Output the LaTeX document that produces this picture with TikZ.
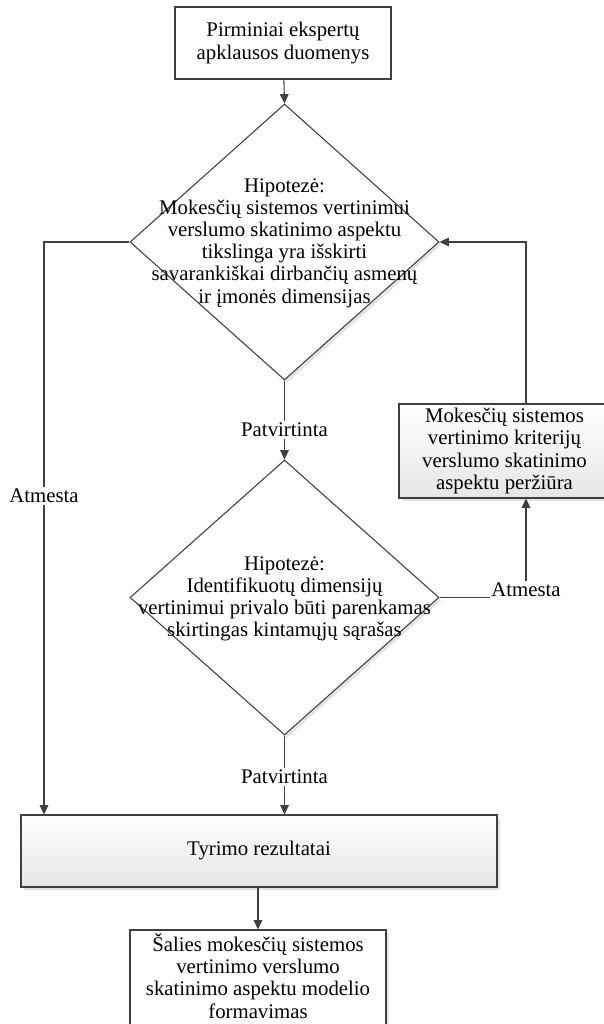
\documentclass[tikz,border=0pt]{standalone}
\usepackage{fontspec}
\setmainfont{Liberation Serif}
\usetikzlibrary{arrows.meta,shapes.geometric,shadows,calc}
\definecolor{linec}{HTML}{404040}
\definecolor{boxgray}{HTML}{E6E6E6}
\begin{document}
\begin{tikzpicture}[x=0.75pt,y=-0.75pt,
  line/.style={draw=linec, line width=0.8pt},
  arr/.style={line, -{Triangle[length=7pt,width=6.5pt]}},
  txt/.style={font=\fontsize{15.6}{16.6}\selectfont, align=center, text=black, inner sep=1pt},
  shad/.style={drop shadow={opacity=0.22, shadow xshift=2pt, shadow yshift=-2pt}},
  plainbox/.style={draw=linec, line width=0.8pt, fill=white, txt},
  gradbox/.style={draw=linec, line width=0.8pt, top color=white, bottom color=boxgray, shad, txt},
  whitebox/.style={draw=linec, line width=0.8pt, fill=white, shad, txt},
  dia/.style={diamond, draw=linec, line width=0.8pt, fill=white, shad, inner sep=0pt, minimum width=231.75pt},
  lbl/.style={txt, fill=white}
]
\useasboundingbox (0,0) rectangle (603,1024);
\fill[white] (0,0) rectangle (603,1024);

% nodes
\node[plainbox, minimum width=162pt, minimum height=54pt] (top) at (283,43)
  {Pirminiai ekspertų\\apklausos duomenys};

\node[dia, minimum height=207pt] (d1) at (284.5,242) {};
\node[txt] (d1t) at (284.5,243)
  {Hipotezė:\\Mokesčių sistemos vertinimui\\verslumo skatinimo aspektu\\tikslinga yra išskirti\\savarankiškai dirbančių asmenų\\ir įmonės dimensijas};

\node[dia, minimum height=206.25pt] (d2) at (284.5,597.5) {};
\node[txt] (d2t) at (284.5,599)
  {Hipotezė:\\Identifikuotų dimensijų\\vertinimui privalo būti parenkamas\\skirtingas kintamųjų sąrašas};

\node[gradbox, minimum width=158.25pt, minimum height=70.5pt] (rev) at (504.5,451)
  {Mokesčių sistemos\\vertinimo kriterijų\\verslumo skatinimo\\aspektu peržiūra};

\node[gradbox, minimum width=357pt, minimum height=54pt] (tyr) at (259,851)
  {Tyrimo rezultatai};

\node[whitebox, minimum width=192pt, minimum height=75pt] (fin) at (258,980) {};
\node[txt] (fint) at (258,976)
  {Šalies mokesčių sistemos\\vertinimo verslumo\\skatinimo aspektu modelio\\formavimas};

% labels
\node[lbl] (p1) at (284.5,430) {Patvirtinta};
\node[lbl] (p2) at (284.5,777) {Patvirtinta};
\node[lbl] (a1) at (44,496) {Atmesta};
\node[lbl] (a2) at (526,590) {Atmesta};

% connectors
\draw[arr] (top) -- (d1.north);
\draw[line] (d1.south) -- (p1.north);
\draw[arr] (p1.south) -- (d2.north);
\draw[line] (d2.south) -- (p2.north);
\draw[arr] (p2.south) -- (p2.south |- tyr.north);
\draw[line] (d1.west) -| (a1.north);
\draw[arr] (a1.south) -- (a1.south |- tyr.north);
\draw[line] (d2.east) -- (d2.east -| a2.west);
\draw[arr] (a2.north) -- (a2.north |- rev.south);
\draw[arr] (rev.north -| a2) |- (d1.east);
\draw[arr] (tyr.south -| fin.north) -- (fin.north);
\end{tikzpicture}
\end{document}
